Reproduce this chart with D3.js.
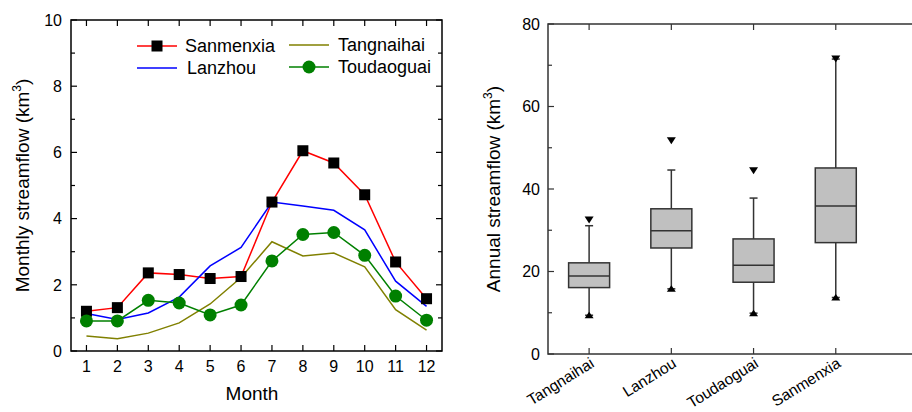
<!DOCTYPE html>
<html>
<head>
<meta charset="utf-8">
<script src="https://cdn.jsdelivr.net/npm/d3@7"></script>
<style>
  body { margin: 0; background: #fff; }
  svg { font-family: "Liberation Sans", Arial, sans-serif; }
</style>
</head>
<body>
<div id="chart"></div>
<script>
// monthly streamflow (km3)
const months = [1, 2, 3, 4, 5, 6, 7, 8, 9, 10, 11, 12];
const sanmenxia = [1.20, 1.31, 2.36, 2.31, 2.19, 2.25, 4.50, 6.05, 5.68, 4.72, 2.69, 1.58];
const lanzhou = [1.13, 0.95, 1.15, 1.63, 2.57, 3.13, 4.50, 4.38, 4.25, 3.66, 2.11, 1.35];
const tangnaihai = [0.45, 0.37, 0.54, 0.85, 1.42, 2.22, 3.30, 2.87, 2.96, 2.54, 1.25, 0.63];
const toudaoguai = [0.91, 0.91, 1.53, 1.45, 1.09, 1.39, 2.72, 3.52, 3.58, 2.89, 1.66, 0.93];
const monthTicks = [0, 2, 4, 6, 8, 10];

// annual streamflow box stats (km3)
const stations = ['Tangnaihai', 'Lanzhou', 'Toudaoguai', 'Sanmenxia'];
const q1 = [16.1, 25.7, 17.4, 27.0];
const median = [18.9, 29.9, 21.5, 35.9];
const q3 = [22.1, 35.2, 27.9, 45.1];
const whiskerLow = [9.4, 15.8, 9.9, 13.7];
const whiskerHigh = [31.1, 44.6, 37.8, 71.5];
const maxVal = [32.5, 51.7, 44.4, 71.5];
const minVal = [9.4, 15.8, 9.9, 13.7];
const annualTicks = [0, 20, 40, 60, 80];

const svg = d3.select('#chart').append('svg')
    .attr('width', 912)
    .attr('height', 412);

// ---------- left: monthly lines ----------
const left = { x0: 71, x1: 442, y0: 20, y1: 351 };
const x = d3.scaleLinear().domain([0.5, 12.5]).range([left.x0, left.x1]);
const y = d3.scaleLinear().domain([0, 10]).range([left.y1, left.y0]);

const series = [
    { name: 'Sanmenxia', values: sanmenxia, color: '#ff0000', marker: 'square' },
    { name: 'Lanzhou', values: lanzhou, color: '#0000ff', marker: null },
    { name: 'Tangnaihai', values: tangnaihai, color: '#808000', marker: null },
    { name: 'Toudaoguai', values: toudaoguai, color: '#008000', marker: 'circle' }
];

const g1 = svg.append('g');

// ticks, all inward
const minorY = d3.range(1, 10, 2);
g1.selectAll('.ytick').data(monthTicks).join('line')
    .attr('x1', left.x0).attr('x2', left.x0 + 6)
    .attr('y1', d => y(d)).attr('y2', d => y(d))
    .attr('stroke', '#000').attr('stroke-width', 1.2);
g1.selectAll('.ytickr').data(monthTicks).join('line')
    .attr('x1', left.x1).attr('x2', left.x1 - 6)
    .attr('y1', d => y(d)).attr('y2', d => y(d))
    .attr('stroke', '#000').attr('stroke-width', 1.2);
g1.selectAll('.yminor').data(minorY).join('line')
    .attr('x1', left.x0).attr('x2', left.x0 + 4)
    .attr('y1', d => y(d)).attr('y2', d => y(d))
    .attr('stroke', '#000').attr('stroke-width', 1.2);
g1.selectAll('.yminorr').data(minorY).join('line')
    .attr('x1', left.x1).attr('x2', left.x1 - 4)
    .attr('y1', d => y(d)).attr('y2', d => y(d))
    .attr('stroke', '#000').attr('stroke-width', 1.2);
g1.selectAll('.xtick').data(months).join('line')
    .attr('x1', d => x(d)).attr('x2', d => x(d))
    .attr('y1', left.y1).attr('y2', left.y1 - 6)
    .attr('stroke', '#000').attr('stroke-width', 1.2);
g1.selectAll('.xtickt').data(months).join('line')
    .attr('x1', d => x(d)).attr('x2', d => x(d))
    .attr('y1', left.y0).attr('y2', left.y0 + 6)
    .attr('stroke', '#000').attr('stroke-width', 1.2);

g1.selectAll('.ylab').data(monthTicks).join('text')
    .attr('x', left.x0 - 9).attr('y', d => y(d)).attr('dy', '0.36em')
    .attr('text-anchor', 'end').attr('font-size', 16).text(d => d);
g1.selectAll('.xlab').data(months).join('text')
    .attr('x', d => x(d)).attr('y', 372)
    .attr('text-anchor', 'middle').attr('font-size', 16).text(d => d);

g1.append('text')
    .attr('x', 252).attr('y', 400)
    .attr('text-anchor', 'middle').attr('font-size', 19).text('Month');
const t1 = g1.append('text')
    .attr('transform', `translate(29,${(left.y0 + left.y1) / 2}) rotate(-90)`)
    .attr('text-anchor', 'middle').attr('font-size', 19);
t1.append('tspan').text('Monthly streamflow (km');
t1.append('tspan').attr('font-size', 12).attr('dy', -8).text('3');
t1.append('tspan').attr('dy', 8).text(')');

const line = d3.line().x((d, i) => x(months[i])).y(d => y(d));
series.forEach(s => {
    g1.append('path')
        .attr('d', line(s.values))
        .attr('fill', 'none')
        .attr('stroke', s.color)
        .attr('stroke-width', 1.5);
});

function drawMarker(g, type, cx, cy) {
    if (type === 'square') {
        g.append('rect')
            .attr('x', cx - 5.5).attr('y', cy - 5.5)
            .attr('width', 11).attr('height', 11)
            .attr('fill', '#000');
    } else if (type === 'circle') {
        g.append('circle')
            .attr('cx', cx).attr('cy', cy).attr('r', 6.5)
            .attr('fill', '#008000');
    }
}
series.forEach(s => {
    if (!s.marker) return;
    s.values.forEach((v, i) => drawMarker(g1, s.marker, x(months[i]), y(v)));
});

// frame
g1.append('rect')
    .attr('x', left.x0).attr('y', left.y0)
    .attr('width', left.x1 - left.x0).attr('height', left.y1 - left.y0)
    .attr('fill', 'none').attr('stroke', '#000').attr('stroke-width', 1.5);

// legend
const legendPos = [
    { lx: 137, tx: 185, y: 46 },
    { lx: 137, tx: 187, y: 68 },
    { lx: 289, tx: 338, y: 45 },
    { lx: 289, tx: 338, y: 67 }
];
series.forEach((s, i) => {
    const p = legendPos[i];
    g1.append('line')
        .attr('x1', p.lx).attr('x2', p.lx + 40)
        .attr('y1', p.y).attr('y2', p.y)
        .attr('stroke', s.color).attr('stroke-width', 1.5);
    drawMarker(g1, s.marker, p.lx + 20, p.y);
    g1.append('text')
        .attr('x', p.tx).attr('y', p.y).attr('dy', '0.36em')
        .attr('font-size', 18).text(s.name);
});

// ---------- right: annual box plot ----------
const right = { x0: 548, x1: 918, y0: 24, y1: 354 };
const bx = d3.scaleLinear().domain([0.5, 5]).range([right.x0, right.x1]);
const by = d3.scaleLinear().domain([0, 80]).range([right.y1, right.y0]);
const axisColor = '#333';
const g2 = svg.append('g');

const minorA = d3.range(10, 80, 20);
g2.selectAll('.ay').data(annualTicks).join('line')
    .attr('x1', right.x0).attr('x2', right.x0 + 6)
    .attr('y1', d => by(d)).attr('y2', d => by(d))
    .attr('stroke', axisColor).attr('stroke-width', 1.2);
g2.selectAll('.ayr').data(annualTicks).join('line')
    .attr('x1', right.x1).attr('x2', right.x1 - 6)
    .attr('y1', d => by(d)).attr('y2', d => by(d))
    .attr('stroke', axisColor).attr('stroke-width', 1.2);
g2.selectAll('.aym').data(minorA).join('line')
    .attr('x1', right.x0).attr('x2', right.x0 + 4)
    .attr('y1', d => by(d)).attr('y2', d => by(d))
    .attr('stroke', axisColor).attr('stroke-width', 1.2);
g2.selectAll('.ax').data(stations).join('line')
    .attr('x1', (d, i) => bx(i + 1)).attr('x2', (d, i) => bx(i + 1))
    .attr('y1', right.y1).attr('y2', right.y1 - 6)
    .attr('stroke', axisColor).attr('stroke-width', 1.2);
g2.selectAll('.axt').data(stations).join('line')
    .attr('x1', (d, i) => bx(i + 1)).attr('x2', (d, i) => bx(i + 1))
    .attr('y1', right.y0).attr('y2', right.y0 + 6)
    .attr('stroke', axisColor).attr('stroke-width', 1.2);

g2.selectAll('.aylab').data(annualTicks).join('text')
    .attr('x', right.x0 - 8).attr('y', d => by(d)).attr('dy', '0.36em')
    .attr('text-anchor', 'end').attr('font-size', 16).text(d => d);
g2.selectAll('.axlab').data(stations).join('text')
    .attr('transform', (d, i) => `translate(${bx(i + 1) + 6},${right.y1 + 12}) rotate(-32)`)
    .attr('text-anchor', 'end').attr('font-size', 15.5).text(d => d);

const t2 = g2.append('text')
    .attr('transform', `translate(500,${(right.y0 + right.y1) / 2}) rotate(-90)`)
    .attr('text-anchor', 'middle').attr('font-size', 19);
t2.append('tspan').text('Annual streamflow (km');
t2.append('tspan').attr('font-size', 12).attr('dy', -8).text('3');
t2.append('tspan').attr('dy', 8).text(')');

const boxW = 41;
const capW = 8;
stations.forEach((s, i) => {
    const cx = bx(i + 1);
    // whiskers
    g2.append('line')
        .attr('x1', cx).attr('x2', cx)
        .attr('y1', by(whiskerLow[i])).attr('y2', by(q1[i]))
        .attr('stroke', axisColor).attr('stroke-width', 1.5);
    g2.append('line')
        .attr('x1', cx).attr('x2', cx)
        .attr('y1', by(q3[i])).attr('y2', by(whiskerHigh[i]))
        .attr('stroke', axisColor).attr('stroke-width', 1.5);
    [whiskerLow[i], whiskerHigh[i]].forEach(v => {
        g2.append('line')
            .attr('x1', cx - capW / 2).attr('x2', cx + capW / 2)
            .attr('y1', by(v)).attr('y2', by(v))
            .attr('stroke', axisColor).attr('stroke-width', 1.5);
    });
    // box
    g2.append('rect')
        .attr('x', cx - boxW / 2).attr('y', by(q3[i]))
        .attr('width', boxW).attr('height', by(q1[i]) - by(q3[i]))
        .attr('fill', '#c0c0c0').attr('stroke', axisColor).attr('stroke-width', 1.5);
    g2.append('line')
        .attr('x1', cx - boxW / 2).attr('x2', cx + boxW / 2)
        .attr('y1', by(median[i])).attr('y2', by(median[i]))
        .attr('stroke', axisColor).attr('stroke-width', 1.5);
    // max (down triangle) and min (up triangle) markers
    const ym = by(maxVal[i]);
    g2.append('path')
        .attr('d', `M${cx - 4.5},${ym - 3.5}L${cx + 4.5},${ym - 3.5}L${cx},${ym + 3.5}Z`)
        .attr('fill', '#000');
    const yn = by(minVal[i]);
    g2.append('path')
        .attr('d', `M${cx - 4.5},${yn + 3}L${cx + 4.5},${yn + 3}L${cx},${yn - 3.5}Z`)
        .attr('fill', '#000');
});

g2.append('rect')
    .attr('x', right.x0).attr('y', right.y0)
    .attr('width', right.x1 - right.x0).attr('height', right.y1 - right.y0)
    .attr('fill', 'none').attr('stroke', axisColor).attr('stroke-width', 1.5);
</script>
</body>
</html>
